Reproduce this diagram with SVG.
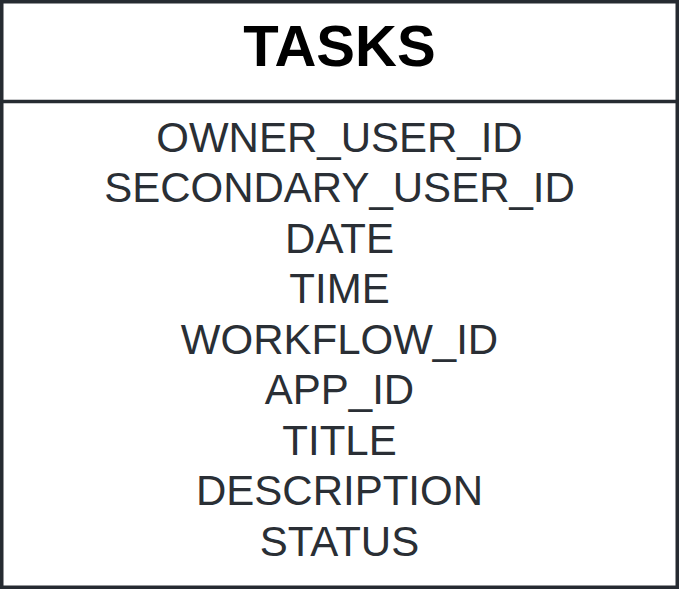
<svg xmlns="http://www.w3.org/2000/svg" width="679" height="589" viewBox="0 0 679 589">
<style>
.frame{fill:#ffffff;stroke:#262b31;stroke-width:3.5}
.sep{stroke:#262b31;stroke-width:3.5}
.title{font-family:"Liberation Sans",Arial,sans-serif;font-weight:bold;font-size:58px;fill:#000000;text-anchor:middle}
.field{font-family:"Liberation Sans",Arial,sans-serif;font-size:42px;fill:#2a2f35;text-anchor:middle}
</style>
<rect width="679" height="589" fill="#ffffff"/>
<g id="tasks">
<rect class="frame" x="1.75" y="1.75" width="675.5" height="585.5"/>
<line class="sep" x1="0" y1="101.5" x2="679" y2="101.5"/>
<text class="title" x="339.5" y="66">TASKS</text>
<text class="field" x="339.5" y="151.5">OWNER_USER_ID</text>
<text class="field" x="339.5" y="202">SECONDARY_USER_ID</text>
<text class="field" x="339.5" y="252.5">DATE</text>
<text class="field" x="339.5" y="303">TIME</text>
<text class="field" x="339.5" y="353.5">WORKFLOW_ID</text>
<text class="field" x="339.5" y="404">APP_ID</text>
<text class="field" x="339.5" y="454.5">TITLE</text>
<text class="field" x="339.5" y="505">DESCRIPTION</text>
<text class="field" x="339.5" y="555.5">STATUS</text>
</g>
<g id="connectors"/>
</svg>
